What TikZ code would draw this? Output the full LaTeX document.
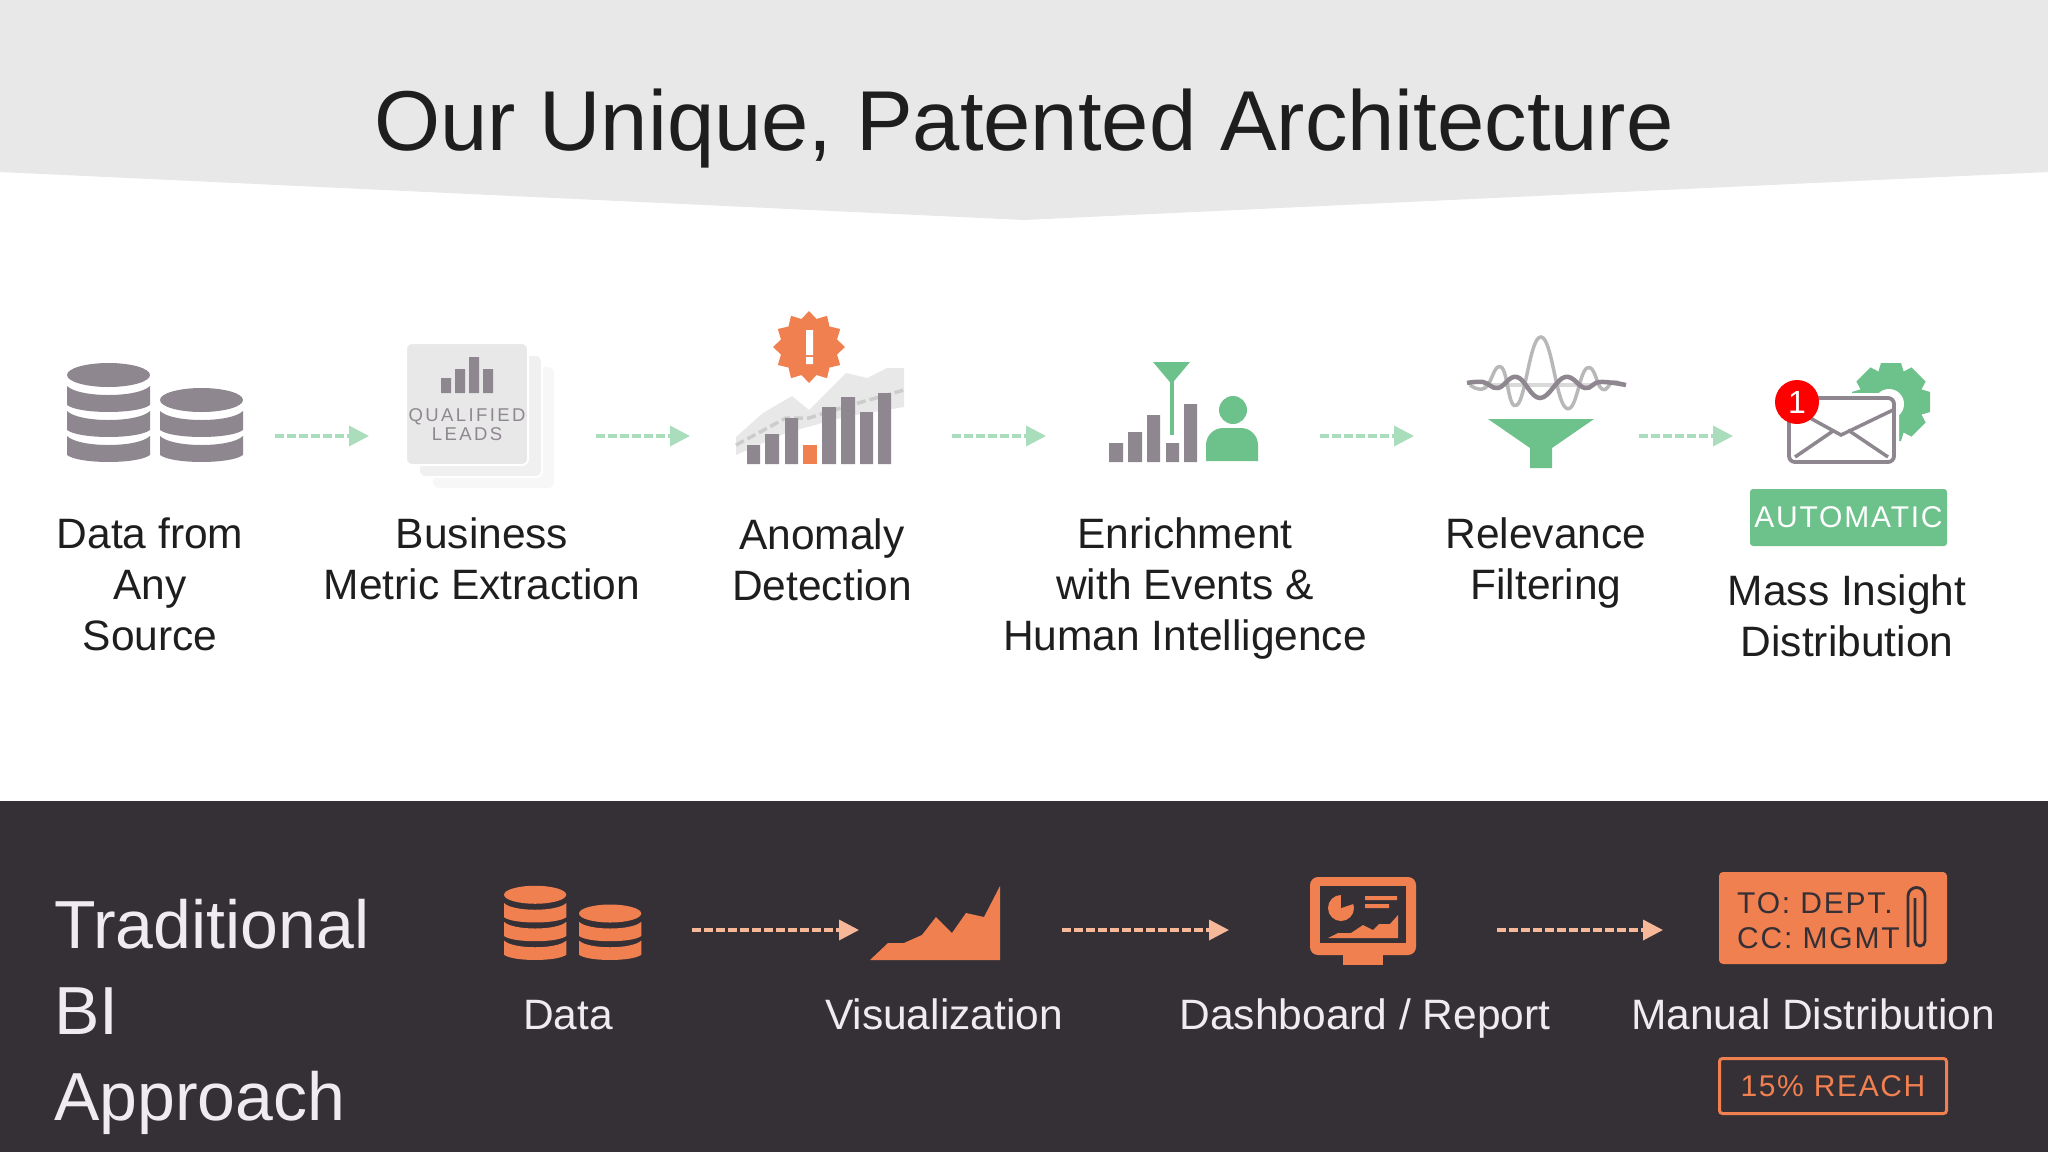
\documentclass[tikz,border=0pt]{standalone}
\usepackage{fontspec}
\setmainfont{Liberation Sans}
\usepackage{tikz}
\usetikzlibrary{arrows.meta}
\usetikzlibrary{positioning}

\definecolor{headgrey}{HTML}{E8E8E9}
\definecolor{panel}{HTML}{352F36}
\definecolor{icongrey}{HTML}{8E878F}
\definecolor{leafgreen}{HTML}{6DC28B}
\definecolor{flowgreen}{HTML}{A9DDBB}
\definecolor{iconorange}{HTML}{F08050}
\definecolor{floworange}{HTML}{F6B898}
\definecolor{inktext}{HTML}{1E1E1E}
\definecolor{paleink}{HTML}{EFEBF1}

% one stack of discs, standing on its lower left corner
\newcommand{\dbstack}[5]{
    \begin{scope}[shift={(#1,#2)}, scale=#3, #5]
        \fill (41.5,-25*#4-12) ellipse [x radius=41.5, y radius=12];
        \foreach \k in {1,...,#4} {
            \pgfmathsetmacro{\sh}{-25*(\k-1)}
            \fill (0,\sh-26) .. controls (12,\sh-14) and (71,\sh-14) .. (83,\sh-26)
                -- (83,\sh-7) .. controls (71,\sh+2.3) and (12,\sh+2.3) .. (0,\sh-7) -- cycle;
        }
    \end{scope}
}
\newcommand{\spaced}[2]{{\addfontfeature{LetterSpace=#1}#2}}

\begin{document}
\begin{tikzpicture}[x=1pt, y=-1pt]
    \tikzset{every node/.style={inner sep=0pt},
            >={Triangle[length=20pt, width=20pt]},
            every edge/.style={draw, line width=3.5pt, dash pattern=on 8.5pt off 3.5pt},
            greenflow/.style={->, flowgreen},
            orangeflow/.style={->, floworange},
            steptext/.style={align=center, anchor=base, text=inktext,
                font=\fontsize{42.5}{51}\selectfont},
            lowtext/.style={anchor=base, text=paleink,
                font=\fontsize{42.5}{51}\selectfont},
            capstext/.style={font=\fontsize{30}{35}\selectfont}}
    \useasboundingbox (0,0) rectangle (2048,1152);

    \fill[headgrey] (0,0) -- (2048,0) -- (2048,172) -- (1024,220) -- (0,172) -- cycle;
    \fill[panel] (0,801) rectangle (2048,1152);
    \node[anchor=base, text=inktext, font=\fontsize{85}{100}\selectfont] (title) at (1024,150)
        {Our Unique, Patented Architecture};

    % data
    \dbstack{67}{462}{1}{3}{icongrey}
    \dbstack{160}{462}{1}{2}{icongrey}

    % qualified leads
    \fill[black!3, rounded corners=6] (433,367) rectangle (554,488);
    \filldraw[draw=white, line width=2pt, fill=black!6, rounded corners=6] (419,355) rectangle (542,477);
    \filldraw[draw=white, line width=2pt, fill=headgrey, rounded corners=6] (406,343) rectangle (528,465);
    \fill[icongrey] (441,378) rectangle (451,393) (455,369) rectangle (465,393)
        (469,357) rectangle (479,393) (483,369) rectangle (493,393);
    \node[text=icongrey, font=\fontsize{18.5}{22}\selectfont] (qualified) at (467,417)
        {\spaced{13}{QUALIFIED}};
    \node[text=icongrey, font=\fontsize{18.5}{22}\selectfont] (leads) at (467,434)
        {\spaced{13}{LEADS}};

    % anomaly
    \fill[headgrey] (736,437) -- (763,413) -- (792,396) -- (809,410) -- (846,373) -- (867,378)
        -- (887,368) -- (904,368) -- (904,407) -- (844,417) -- (786,433) -- (736,455) -- cycle;
    \draw[black!20, line width=3.5pt, dash pattern=on 9pt off 4pt] (736,445) -- (786,418) -- (809,418)
        -- (844,407) -- (904,390);
    \fill[icongrey] (747,445) rectangle (760,464) (765,434) rectangle (779,464)
        (785,418) rectangle (798,464) (822,407) rectangle (836,464)
        (841,397) rectangle (855,464) (860,412) rectangle (873,464)
        (878,393) rectangle (891,464);
    \fill[iconorange] (803,445) rectangle (817,464);
    \fill[iconorange] plot[samples at={0,15,...,345}]
        ({809+(32.5+3.5*cos(12*\x))*cos(\x)},{347+(32.5+3.5*cos(12*\x))*sin(\x)}) -- cycle;
    \fill[white] (806,330) rectangle (813,355) (806,357) rectangle (813,364);

    % enrichment
    \fill[icongrey] (1109,443) rectangle (1123,462) (1128,432) rectangle (1142,462)
        (1147,415) rectangle (1160,462) (1166,443) rectangle (1179,462)
        (1184,404) rectangle (1197,462);
    \fill[leafgreen] (1153,362) -- (1190,362) -- (1171.5,384) -- cycle;
    \fill[leafgreen] (1170,380) rectangle (1174,435);
    \fill[leafgreen] (1233,410) circle [radius=14];
    \fill[leafgreen] (1206,461) [rounded corners=17] -- (1206,428) -- (1258,428)
        [sharp corners] -- (1258,461) -- cycle;

    % filter
    \draw[black!15, line width=4pt] (1483,385) -- (1594,385);
    \draw[black!28, line width=3.5pt] plot[smooth, tension=0.8] coordinates {(1470,385) (1485,388)
        (1501,367) (1517,405) (1541,337) (1566,408) (1587,368) (1602,389) (1613,382) (1623,385)};
    \draw[icongrey, line width=4.5pt] plot[smooth, tension=0.7] coordinates {(1467,383) (1483,382) (1498,388)
        (1517,377) (1540,398) (1565,377) (1585,388) (1600,382) (1626,385)};
    \fill[leafgreen] (1488,419) -- (1594,419) -- (1552,448) -- (1552,468)
        -- (1530,468) -- (1530,448) -- cycle;

    % distribution
    \foreach \a in {0,45,...,315} {
        \fill[leafgreen, rotate around={\a:(1891,402)}] (1881,363) -- (1901,363)
            -- (1905,376) -- (1877,376) -- cycle;
    }
    \fill[leafgreen] (1891,402) circle [radius=31];
    \fill[white] (1889,404) circle [radius=15];
    \draw[white, line width=10pt, rounded corners=6] (1789,398) rectangle (1894,462);
    \filldraw[icongrey, fill=white, line width=3.8pt, rounded corners=6] (1789,398) rectangle (1894,462);
    \draw[icongrey, line width=3.5pt] (1810,418) -- (1841,435) -- (1893,410);
    \draw[icongrey, line width=3.5pt] (1795,457) -- (1833,431) (1848,430) -- (1888,457);
    \fill[red] (1797,402) circle [radius=22];
    \node[text=white, font=\fontsize{32}{36}\selectfont] (alert) at (1797,402) {1};

    \node[fill=leafgreen, rounded corners=3pt, minimum width=197pt, minimum height=57pt,
        text=white, font=\fontsize{30}{35}\selectfont] (automatic) at (1848.5,517.5) {\spaced{6}{AUTOMATIC}};

    % upper arrows
    \coordinate (up1a) at (275,436);
    \coordinate (up1b) at (369,436);
    \coordinate (up2a) at (596,436);
    \coordinate (up2b) at (690,436);
    \coordinate (up3a) at (952,436);
    \coordinate (up3b) at (1046,436);
    \coordinate (up4a) at (1320,436);
    \coordinate (up4b) at (1414,436);
    \coordinate (up5a) at (1639,436);
    \coordinate (up5b) at (1733,436);
    \foreach \i in {1,...,5} {
        \path [greenflow] (up\i a) edge (up\i b);
    }

    \node[steptext] (source) at (150,650) {Data from\\Any\\Source};
    \node[steptext] (metric) at (482,599) {Business\\Metric Extraction};
    \node[steptext] (anomaly) at (822,600) {Anomaly\\Detection};
    \node[steptext] (enrich) at (1185,650) {Enrichment\\with Events \&\\Human Intelligence};
    \node[steptext] (relevance) at (1546,599) {Relevance\\Filtering};
    \node[steptext] (insight) at (1847,656) {Mass Insight\\Distribution};

    % traditional side
    \node[anchor=base west, align=left, text=paleink, font=\fontsize{68}{86}\selectfont] (approach) at (54,1120)
        {Traditional\\BI\\Approach};

    \dbstack{504}{960}{0.75}{3}{iconorange}
    \dbstack{579}{960}{0.75}{2}{iconorange}

    \fill[iconorange] (870,960) -- (888,943) -- (904,943) -- (922,935) -- (936,917) -- (952,933)
        -- (966,913) -- (984,917) -- (1000,886) -- (1000,960) -- cycle;

    \fill[iconorange, rounded corners=8] (1310,877) rectangle (1416,955);
    \fill[iconorange] (1343,950) rectangle (1383,965);
    \fill[panel] (1320,886) rectangle (1406,943);
    \fill[iconorange] (1341,908) circle [radius=13];
    \fill[panel] (1341,908) -- (1341,893) -- (1356,893) -- (1356,903) -- cycle;
    \fill[iconorange] (1365,896) rectangle (1397,900) (1365,904) rectangle (1389,908);
    \fill[iconorange] (1328,938) -- (1338,933) -- (1351,933) -- (1363,925) -- (1373,930) -- (1379,924)
        -- (1390,924) -- (1398,915) -- (1398,938) -- cycle;

    \fill[iconorange, rounded corners=4] (1719,872) rectangle (1947,964);
    \node[anchor=base west, text=panel, capstext] (todept) at (1737,913) {\spaced{6}{TO: DEPT.}};
    \node[anchor=base west, text=panel, capstext] (ccmgmt) at (1737,948) {\spaced{6}{CC: MGMT}};
    \draw[panel, line width=2.8pt] (1908,947) -- (1908,896) arc [start angle=180, end angle=360, radius=8.5]
        -- (1925,941) arc [start angle=0, end angle=180, radius=5] -- (1915,898);

    \node[draw=iconorange, line width=3pt, rounded corners=3pt, minimum width=227pt, minimum height=55pt,
        text=iconorange, capstext] (reach) at (1833,1086) {\spaced{5.4}{15\% REACH}};

    \coordinate (low1a) at (692,930);
    \coordinate (low1b) at (859,930);
    \coordinate (low2a) at (1062,930);
    \coordinate (low2b) at (1229,930);
    \coordinate (low3a) at (1497,930);
    \coordinate (low3b) at (1663,930);
    \foreach \i in {1,2,3} {
        \path [orangeflow] (low\i a) edge (low\i b);
    }

    \node[lowtext] (data) at (568,1029) {Data};
    \node[lowtext] (visual) at (944,1029) {Visualization};
    \node[lowtext] (report) at (1365,1029) {Dashboard / Report};
    \node[lowtext] (manual) at (1813,1029) {Manual Distribution};
\end{tikzpicture}
\end{document}
